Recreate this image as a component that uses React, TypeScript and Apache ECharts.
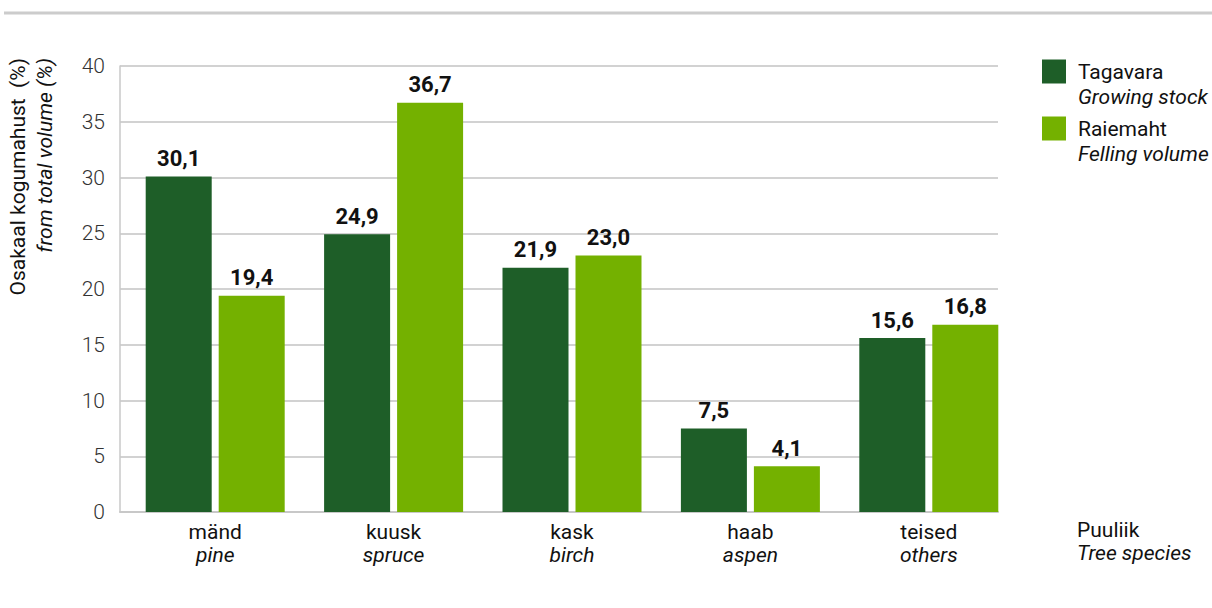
import React, { useEffect, useRef } from "react";
import * as echarts from "echarts";

const categoriesEt = ["mänd", "kuusk", "kask", "haab", "teised"];
const categoriesEn = ["pine", "spruce", "birch", "aspen", "others"];
const growingStock = [30.1, 24.9, 21.9, 7.5, 15.6];
const fellingVolume = [19.4, 36.7, 23.0, 4.1, 16.8];
const seriesNames = ["Tagavara", "Raiemaht"];
const seriesNamesEn = ["Growing stock", "Felling volume"];

const DARK = "#1e5e28";
const LIGHT = "#74b100";
const FONT = "Roboto, 'Noto Sans', sans-serif";

export default function App() {
  const ref = useRef<HTMLDivElement>(null);
  useEffect(() => {
    document.body.style.margin = "0";
    const chart = echarts.init(ref.current!, null, { renderer: "svg" });
    const fmt = (p: any) => Number(p.value).toFixed(1).replace(".", ",");
    const labelCfg = {
      show: true,
      position: "top",
      distance: 7,
      formatter: fmt,
      fontFamily: FONT,
      fontWeight: "bold",
      fontSize: 22,
      color: "#111",
    };
    const enMap: Record<string, string> = {};
    seriesNames.forEach((n, i) => (enMap[n] = seriesNamesEn[i]));
    const legendRich = {
      e: { fontFamily: FONT, fontSize: 21, lineHeight: 25, padding: [0, 0, 0, 7] },
      a: { fontFamily: FONT, fontSize: 21, color: "#111", lineHeight: 25, padding: [0, 0, 0, 7] },
      b: { fontFamily: FONT, fontSize: 21, fontStyle: "italic", color: "#111", lineHeight: 25, padding: [0, 0, 0, 7] },
    };
    const makeLegend = (name: string, top: number) => ({
      orient: "vertical",
      left: 1042,
      top,
      padding: 0,
      itemWidth: 24,
      itemHeight: 24,
      icon: "rect",
      data: [name],
      formatter: (n: string) => `{e| }\n{a|${n}}\n{b|${enMap[n]}}`,
      textStyle: { rich: legendRich },
    });
    chart.setOption({
      animation: false,
      textStyle: { fontFamily: FONT },
      grid: [
        { left: 120, top: 66, width: 878, height: 446 },
        { left: 126, top: 66, width: 892, height: 446 },
      ],
      xAxis: [
        {
          gridIndex: 0,
          type: "category",
          data: categoriesEt,
          axisLine: { show: true, lineStyle: { color: "#c8c8c8", width: 2 } },
          axisTick: { show: false },
          axisLabel: { show: false },
        },
        {
          gridIndex: 1,
          type: "category",
          data: categoriesEt,
          axisLine: { show: false },
          axisTick: { show: false },
          axisLabel: {
            margin: 8,
            formatter: (v: string) => {
              const i = categoriesEt.indexOf(v);
              return `{a|${v}}\n{b|${categoriesEn[i]}}`;
            },
            rich: {
              a: { fontFamily: FONT, fontSize: 21, color: "#111", lineHeight: 23 },
              b: { fontFamily: FONT, fontSize: 21, fontStyle: "italic", color: "#111", lineHeight: 23 },
            },
          },
        },
      ],
      yAxis: [
        {
          gridIndex: 0,
          type: "value",
          min: 0,
          max: 40,
          interval: 5,
          axisLine: { show: true, lineStyle: { color: "#c8c8c8", width: 1.5 } },
          axisTick: { show: false },
          axisLabel: { margin: 15, fontFamily: FONT, fontSize: 21, fontWeight: 300, color: "#333" },
          splitLine: { lineStyle: { color: "#d2d2d2", width: 2 } },
        },
        {
          gridIndex: 1,
          type: "value",
          min: 0,
          max: 40,
          interval: 5,
          show: false,
          splitLine: { show: false },
        },
      ],
      legend: [makeLegend(seriesNames[0], 36), makeLegend(seriesNames[1], 93)],
      series: [
        {
          name: seriesNames[0],
          type: "bar",
          xAxisIndex: 1,
          yAxisIndex: 1,
          data: growingStock,
          barWidth: 66,
          barGap: "10.6%",
          itemStyle: { color: DARK },
          label: labelCfg,
        },
        {
          name: seriesNames[1],
          type: "bar",
          xAxisIndex: 1,
          yAxisIndex: 1,
          data: fellingVolume,
          barWidth: 66,
          barGap: "10.6%",
          itemStyle: { color: LIGHT },
          label: labelCfg,
        },
      ],
      graphic: [
        {
          type: "line",
          shape: { x1: 4, y1: 13, x2: 1212, y2: 13 },
          style: { stroke: "#cccccc", lineWidth: 3 },
        },
        {
          type: "text",
          x: 18,
          y: 58,
          rotation: Math.PI / 2,
          style: {
            text: "Osakaal kogumahust  (%)",
            fontFamily: FONT,
            fontSize: 21,
            fill: "#111",
            align: "right",
            verticalAlign: "middle",
          },
        },
        {
          type: "text",
          x: 45,
          y: 58,
          rotation: Math.PI / 2,
          style: {
            text: "from total volume (%)",
            fontFamily: FONT,
            fontSize: 21,
            fontStyle: "italic",
            fill: "#111",
            align: "right",
            verticalAlign: "middle",
          },
        },
        {
          type: "text",
          x: 1077,
          y: 519,
          style: {
            text: "Puuliik",
            fontFamily: FONT,
            fontSize: 21,
            fill: "#111",
            align: "left",
            verticalAlign: "top",
          },
        },
        {
          type: "text",
          x: 1077,
          y: 542,
          style: {
            text: "Tree species",
            fontFamily: FONT,
            fontSize: 21,
            fontStyle: "italic",
            fill: "#111",
            align: "left",
            verticalAlign: "top",
          },
        },
      ],
    });
    return () => chart.dispose();
  }, []);
  return <div ref={ref} style={{ width: 1212, height: 608 }} />;
}
